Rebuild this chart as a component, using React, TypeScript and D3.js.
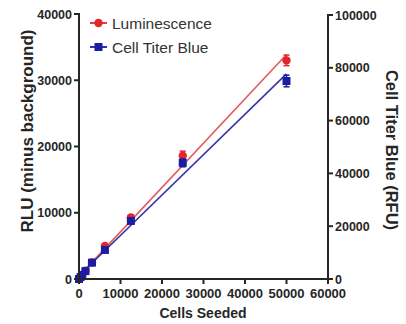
import React from 'react';
import * as d3 from 'd3';

const cells = [0, 390, 781, 1562, 3125, 6250, 12500, 25000, 50000];
const lum = [0, 300, 600, 1250, 2500, 5000, 9300, 18600, 33000];
const lumErr = [60, 60, 80, 100, 150, 250, 350, 700, 800];
const ctb = [0, 750, 1500, 3000, 6200, 11000, 22000, 44000, 75000];
const ctbErr = [150, 150, 200, 250, 400, 600, 900, 1500, 2200];

const xTicks = [0, 10000, 20000, 30000, 40000, 50000, 60000];
const leftTicks = [0, 10000, 20000, 30000, 40000];
const rightTicks = [0, 20000, 40000, 60000, 80000, 100000];

const W = 406;
const H = 324;
const RED = '#e3262b';
const BLUE = '#1c1ca3';
const AXIS = '#262626';
const FONT = '"Liberation Sans", Arial, sans-serif';

function fit(xs: number[], ys: number[]) {
  const mx = d3.mean(xs) ?? 0;
  const my = d3.mean(ys) ?? 0;
  const sxy = d3.sum(xs, (x, i) => (x - mx) * (ys[i] - my));
  const sxx = d3.sum(xs, (x) => (x - mx) ** 2);
  const slope = sxy / sxx;
  return { slope, intercept: my - slope * mx };
}

export default function App() {
  const x = d3.scaleLinear().domain([0, 60000]).range([79, 328]);
  const yL = d3.scaleLinear().domain([0, 40000]).range([279, 14]);
  const yR = d3.scaleLinear().domain([0, 100000]).range([279, 15]);

  const lumFit = fit(cells, lum);
  const ctbFit = fit(cells, ctb);
  const x0 = 0;
  const x1 = d3.max(cells) ?? 50000;

  const lineL = d3.line<number>().x((d) => x(d)).y((d) => yL(lumFit.intercept + lumFit.slope * d));
  const lineR = d3.line<number>().x((d) => x(d)).y((d) => yR(ctbFit.intercept + ctbFit.slope * d));

  return (
    <svg width={W} height={H} style={{ position: 'absolute', left: 0, top: 0, background: '#fff' }} fontFamily={FONT}>
      {/* fit lines */}
      <path d={lineL([x0, x1]) ?? ''} stroke="#e45a5a" strokeWidth={1.6} fill="none" />
      <path d={lineR([x0, x1]) ?? ''} stroke="#3434aa" strokeWidth={1.6} fill="none" />

      {/* luminescence points */}
      {cells.map((c, i) => (
        <g key={'l' + i}>
          <line x1={x(c)} x2={x(c)} y1={yL(lum[i] - lumErr[i])} y2={yL(lum[i] + lumErr[i])} stroke={RED} strokeWidth={1.5} />
          <line x1={x(c) - 3} x2={x(c) + 3} y1={yL(lum[i] + lumErr[i])} y2={yL(lum[i] + lumErr[i])} stroke={RED} strokeWidth={1.5} />
          <line x1={x(c) - 3} x2={x(c) + 3} y1={yL(lum[i] - lumErr[i])} y2={yL(lum[i] - lumErr[i])} stroke={RED} strokeWidth={1.5} />
          <circle cx={x(c)} cy={yL(lum[i])} r={4.2} fill={RED} />
        </g>
      ))}

      {/* cell titer blue points */}
      {cells.map((c, i) => (
        <g key={'c' + i}>
          <line x1={x(c)} x2={x(c)} y1={yR(ctb[i] - ctbErr[i])} y2={yR(ctb[i] + ctbErr[i])} stroke={BLUE} strokeWidth={1.5} />
          <line x1={x(c) - 3} x2={x(c) + 3} y1={yR(ctb[i] + ctbErr[i])} y2={yR(ctb[i] + ctbErr[i])} stroke={BLUE} strokeWidth={1.5} />
          <line x1={x(c) - 3} x2={x(c) + 3} y1={yR(ctb[i] - ctbErr[i])} y2={yR(ctb[i] - ctbErr[i])} stroke={BLUE} strokeWidth={1.5} />
          <rect x={x(c) - 4} y={yR(ctb[i]) - 4} width={8} height={8} fill={BLUE} />
        </g>
      ))}

      {/* axes */}
      <g stroke={AXIS} strokeWidth={2} fill="none">
        <line x1={x(0)} x2={x(0)} y1={yL(40000) - 1} y2={yL(0)} />
        <line x1={x(0) - 1} x2={x(60000) + 1} y1={yL(0)} y2={yL(0)} />
        <line x1={x(60000)} x2={x(60000)} y1={yR(100000) - 1} y2={yR(0)} />
      </g>

      {/* left ticks */}
      {leftTicks.map((t) => (
        <g key={'lt' + t}>
          <line x1={x(0) - 5} x2={x(0)} y1={yL(t)} y2={yL(t)} stroke={AXIS} strokeWidth={2} />
          <text x={x(0) - 7} y={yL(t)} dy="0.36em" textAnchor="end" fontSize={12.5} fontWeight="bold" fill={AXIS}>
            {t}
          </text>
        </g>
      ))}

      {/* right ticks */}
      {rightTicks.map((t) => (
        <g key={'rt' + t}>
          <line x1={x(60000)} x2={x(60000) + 5} y1={yR(t)} y2={yR(t)} stroke={AXIS} strokeWidth={2} />
          <text x={x(60000) + 7} y={yR(t)} dy="0.36em" textAnchor="start" fontSize={12.5} fontWeight="bold" fill={AXIS}>
            {t}
          </text>
        </g>
      ))}

      {/* x ticks */}
      {xTicks.map((t) => (
        <g key={'xt' + t}>
          <line x1={x(t)} x2={x(t)} y1={yL(0)} y2={yL(0) + 5} stroke={AXIS} strokeWidth={2} />
          <text x={x(t)} y={298} textAnchor="middle" fontSize={13} fontWeight="bold" fill={AXIS}>
            {t}
          </text>
        </g>
      ))}

      {/* axis titles */}
      <text x={203} y={318} textAnchor="middle" fontSize={14} fontWeight="bold" fill={AXIS}>
        Cells Seeded
      </text>
      <text transform="translate(33,131) rotate(-90)" textAnchor="middle" fontSize={17} fontWeight="bold" fill={AXIS}>
        RLU (minus background)
      </text>
      <text transform="translate(386,150) rotate(90)" textAnchor="middle" fontSize={16.5} fontWeight="bold" fill={AXIS}>
        Cell Titer Blue (RFU)
      </text>

      {/* legend */}
      <g>
        <line x1={90} x2={107} y1={23} y2={23} stroke={RED} strokeWidth={1.8} />
        <circle cx={98.5} cy={23} r={4.2} fill={RED} />
        <text x={112} y={28.5} fontSize={15.5} fill="#333">Luminescence</text>
        <line x1={90} x2={107} y1={47} y2={47} stroke={BLUE} strokeWidth={1.8} />
        <rect x={94.5} y={43} width={8} height={8} fill={BLUE} />
        <text x={112} y={52.5} fontSize={15.5} fill="#333">Cell Titer Blue</text>
      </g>
    </svg>
  );
}
